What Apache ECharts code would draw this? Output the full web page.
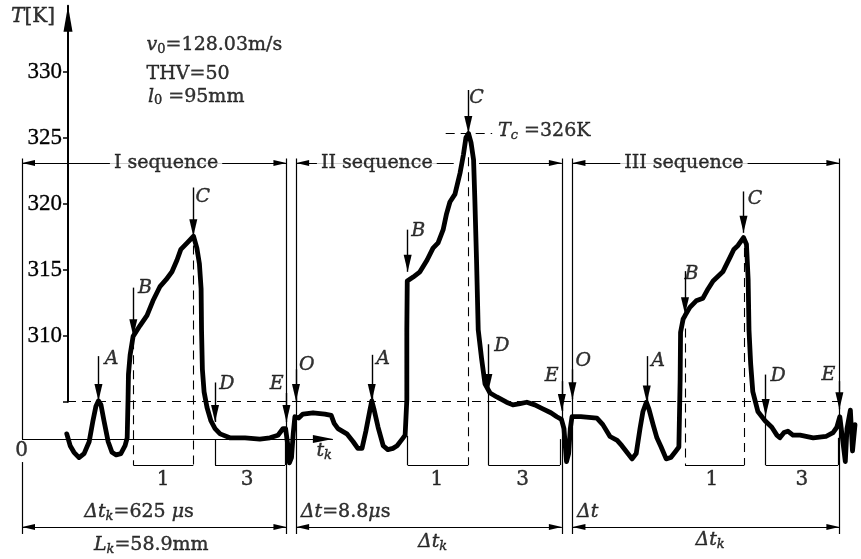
<!DOCTYPE html>
<html><head><meta charset="utf-8">
<script src="https://cdn.jsdelivr.net/npm/echarts@6/dist/echarts.min.js"></script>
<style>html,body{margin:0;padding:0;background:#fff}#c{width:861px;height:559px}</style>
</head><body><div id="c"></div>
<script>
// ---------------- data ----------------
// time t_k in microseconds, temperature T in K
const curveTime = [106,114,123,135,147,159,168,175,181,187,194,204,213,223,234,244,249,251,252,256,263,279,296,310,327,341,355,367,376,391,406,414,420,424,425,427,431,438,447,457,469,492,528,563,587,606,618,624,629,633,638,642,646,
655,665,689,717,732,739,748,769,784,795,805,814,823,828,833,843,855,866,878,888,900,907,911,911,912,926,942,959,973,985,997,1005,1013,1025,1037,1045,1051,1057,1063,1069,1072,1076,1080,1088,1096,1108,1124,1147,1162,1179,1195,1214,1233,1252,1266,1277,1283,1289,1294,1298,1302,
1311,1323,1361,1375,1392,1409,1420,1432,1444,1454,1463,1470,1478,1484,1494,1503,1513,1525,1536,1548,1555,1558,1559,1565,1570,1581,1596,1612,1624,1636,1659,1676,1685,1695,1708,1715,1719,1721,1725,1730,1742,1759,1775,1787,1794,1804,1813,1825,1842,1873,1903,1920,1929,1936,1946,1949,1953,1961,1966,1972];
const curveTemp = [302.5,301.6,301.1,300.7,301.0,301.9,303.5,304.6,305.0,304.7,303.5,301.9,301.1,300.9,301.0,301.6,302.2,305.1,307.0,308.5,309.9,310.7,311.5,312.6,313.7,314.2,314.8,315.7,316.5,317.0,317.5,316.6,315.4,313.5,310.4,307.4,305.7,304.5,303.5,302.9,302.5,302.2,302.2,302.1,302.2,302.4,302.9,302.9,301.7,300.3,300.7,302.5,303.8,
303.7,304.0,304.1,304.0,303.9,303.3,302.9,302.5,301.9,301.4,301.4,302.7,304.2,305.0,304.4,303.0,301.6,301.3,301.4,301.6,302.1,302.4,305.1,310.4,314.1,314.4,314.8,315.7,316.6,317.0,318.0,319.2,320.1,320.7,322.3,323.7,325.0,325.3,324.6,323.3,320.3,315.7,310.4,308.2,306.3,305.6,305.3,304.9,304.7,304.8,304.9,304.7,304.4,304.1,303.8,303.6,302.9,300.4,301.0,302.9,303.8,
303.8,303.8,303.7,303.2,302.3,302.0,301.6,301.1,300.6,301.0,302.9,304.2,304.9,304.4,303.2,302.2,301.5,300.6,300.7,301.2,301.5,306.6,310.2,311.2,311.5,312.1,312.6,312.8,313.5,314.1,314.8,315.9,316.5,316.8,317.4,316.9,314.2,310.4,307.8,305.7,304.2,303.5,303.0,302.4,302.2,302.6,302.7,302.4,302.4,302.2,302.3,302.6,303.0,303.8,301.2,300.4,302.9,304.3,301.2,303.2];

const yTickValues = [310, 315, 320, 325, 330];
const refTemp = 305;          // dashed level
const baseTemp = 302.1;       // t_k axis level
const tcTemp = 325.33;        // peak of II sequence
const seqStart = [0, 649, 1303];
const seqEnd = [626, 1278, 1935];
const seqNames = ['I sequence', 'II sequence', 'III sequence'];
const seqNameTime = [341, 840, 1567];

// marker arrows: letter, time, arrow top (K), arrow tip (K), label time, label K
const markerLetter = ['A','B','C','D','E', 'O','A','B','C','D','E', 'O','A','B','C','D','E'];
const markerTime   = [181,263.5,405.5,457,626, 648.6,828,913,1056.5,1104,1278, 1303,1479,1569.5,1708,1760.5,1935];
const markerTop    = [308.4,313.6,321.2,306.4,305.6, 307.4,308.5,318.0,328.6,309.3,306.5, 307.4,308.4,314.85,320.9,307.0,306.5];
const markerTip    = [305.0,309.9,317.5,303.4,303.4, 305.0,305.0,314.8,325.33,305.76,304.24, 305.13,304.88,311.57,317.76,303.86,304.37];
const markerLabT   = [212,291,428,485,603, 674,855,938,1076,1136,1254, 1329,1506,1585,1735,1790,1909];
const markerLabK   = [308.2,313.6,320.5,306.3,306.3, 307.75,308.2,317.9,328.0,309.2,306.9, 308.0,308.0,314.6,320.3,306.85,307.0];

// ---------------- drawing ----------------
const INK = '#000';
const SERIF = 'DejaVu Serif';
const frameTop = 323.4, frameBottom = 294.9;
const headerTemp = 323.06, spanTemp = 295.43;
const brT = 300.13, brLabT = 299.05;

function pt(t, T, head, size) {
  const p = { coord: [t, T] };
  if (head) { p.symbol = 'triangle'; p.symbolSize = size; p.symbolOffset = [0, size[1] / 2]; }
  else { p.symbol = 'none'; }
  return p;
}
function seg(t1, T1, t2, T2, h1, h2, size) {
  return [pt(t1, T1, h1, size), pt(t2, T2, h2, size)];
}

const frame = [];
[0, 626, 649, 1278, 1303, 1935].forEach(b => {
  if (b === 0) { frame.push(seg(0, frameTop, 0, baseTemp)); frame.push(seg(0, 300.36, 0, frameBottom)); }
  else frame.push(seg(b, frameTop, b, frameBottom));
});
const hs = [6, 13];
frame.push(seg(seqStart[0], headerTemp, seqEnd[0], headerTemp, true, true, hs));
frame.push(seg(seqStart[1], headerTemp, 1022, headerTemp, true, false, hs));
frame.push(seg(1082, headerTemp, seqEnd[1], headerTemp, false, true, hs));
frame.push(seg(seqStart[2], headerTemp, seqEnd[2], headerTemp, true, true, hs));
for (let i = 0; i < 3; i++) frame.push(seg(seqStart[i], spanTemp, seqEnd[i], spanTemp, true, true, hs));
frame.push(seg(0, baseTemp, 736, baseTemp, false, true, [8, 20]));
frame.push(seg(263.5, brT, 405.5, brT));
frame.push(seg(457, brT, 622.6, brT)); frame.push(seg(457, 302.1, 457, brT)); frame.push(seg(622.6, 302.3, 622.6, brT));
frame.push(seg(913, brT, 1056.5, brT)); frame.push(seg(913, 302.35, 913, brT));
frame.push(seg(1104, brT, 1273.6, brT)); frame.push(seg(1104, 305.76, 1104, brT)); frame.push(seg(1273.6, 302.1, 1273.6, brT));
frame.push(seg(1569.5, brT, 1710, brT));
frame.push(seg(1760.5, brT, 1932, brT)); frame.push(seg(1760.5, 303.86, 1760.5, brT)); frame.push(seg(1932, 302.2, 1932, brT));

const dashed = [];
dashed.push(seg(106.5, refTemp, 1936, refTemp));
dashed.push(seg(1003, tcTemp, 1113, tcTemp));
dashed.push(seg(263.5, 309.6, 263.5, brT));
dashed.push(seg(405.5, 316.8, 405.5, brT));
dashed.push(seg(1056.5, 323.5, 1056.5, brT));
dashed.push(seg(1569.5, 310.5, 1569.5, brT));
dashed.push(seg(1710, 316.6, 1710, brT));

const arrows = markerTime.map((t, i) => seg(t, markerTop[i], t, markerTip[i], false, true, [8, 17]));

const rich = {
  i: { fontStyle: 'italic' },
  s: { fontSize: 13, padding: [9, 0, 0, 0] },
  si: { fontSize: 13, fontStyle: 'italic', padding: [9, 0, 0, 0] }
};
function lab(t, T, text, align, size, italic, bg) {
  return { value: [t, T], label: {
    show: true, position: 'inside', formatter: text, align: align || 'center', verticalAlign: 'middle',
    fontFamily: SERIF, fontSize: size || 19, fontStyle: italic ? 'italic' : 'normal', color: INK, rich: rich,
    textBorderColor: INK, textBorderWidth: 0.4,
    backgroundColor: bg ? '#fff' : 'transparent', padding: bg ? [0, 4] : 0 } };
}
const labels = [];
labels.push(lab(78, 334.14, '{i|T}[K]', 'right', 20));
labels.push(lab(295, 332.0, '{i|v}{s|0}=128.03m/s', 'left'));
labels.push(lab(295, 329.83, 'THV=50', 'left'));
labels.push(lab(298, 328.1, '{i|l}{s|0} =95mm', 'left'));
seqNames.forEach((n, i) => labels.push(lab(seqNameTime[i], headerTemp, n, 'center', 19, false, true)));
labels.push(lab(1127, 325.5, '{i|T}{si|c} =326K', 'left'));
labels.push(lab(277, 296.57, '{i|Δt}{si|k}=625 {i|μ}s', 'center'));
labels.push(lab(306, 294.03, '{i|L}{si|k}=58.9mm', 'center'));
labels.push(lab(660, 296.6, '{i|Δt}=8.8{i|μ}s', 'left'));
labels.push(lab(972, 294.3, '{i|Δt}{si|k}', 'center'));
labels.push(lab(1314, 296.57, '{i|Δt}', 'left'));
labels.push(lab(1629, 294.45, '{i|Δt}{si|k}', 'center'));
labels.push(lab(-1, 301.2, '0', 'center', 20));
labels.push(lab(697, 301.2, '{i|t}{si|k}', 'left'));
[[334, '1'], [533, '3'], [982, '1'], [1185, '3'], [1633, '1'], [1846, '3']].forEach(d => labels.push(lab(d[0], brLabT, d[1], 'center', 20)));
markerLetter.forEach((L, i) => labels.push(lab(markerLabT[i], markerLabK[i], L, 'center', 19, true)));

function mlSeries(name, data, ls) {
  return { type: 'line', name: name, xAxisIndex: 0, yAxisIndex: 0, data: [], silent: true, animation: false,
    markLine: { silent: true, animation: false, symbol: ['none', 'none'], label: { show: false },
      emphasis: { disabled: true },
      lineStyle: Object.assign({ color: INK, width: 1.2, type: 'solid' }, ls), data: data } };
}

const option = {
  animation: false,
  backgroundColor: '#fff',
  grid: [
    { left: 0.88, right: 2.6, top: 5.7, bottom: -1.1 },
    { left: 68, width: 10, top: 5.7, bottom: 157.3 }
  ],
  xAxis: [
    { gridIndex: 0, type: 'value', min: -50, max: 1980, show: false },
    { gridIndex: 1, type: 'value', min: 0, max: 1, show: false }
  ],
  yAxis: [
    { gridIndex: 0, type: 'value', min: 293, max: 335, show: false },
    { gridIndex: 1, type: 'value', min: 305, max: 335,
      axisLine: { show: true, onZero: false, symbol: ['none', 'triangle'], symbolSize: [9, 26], symbolOffset: [0, -13], lineStyle: { color: INK, width: 2 } },
      axisTick: { show: true, length: 5, customValues: [305, 310, 315, 320, 325, 330], lineStyle: { color: INK, width: 1.5 } },
      axisLabel: { show: true, customValues: yTickValues, margin: 6, color: INK, fontFamily: 'Liberation Serif', fontSize: 23, textBorderColor: INK, textBorderWidth: 0.3 },
      splitLine: { show: false } }
  ],
  series: [
    mlSeries('frame', frame, {}),
    mlSeries('dashed', dashed, { type: [9, 6], width: 1.1 }),
    mlSeries('markers', arrows, { width: 1.4 }),
    { type: 'line', name: 'T', xAxisIndex: 0, yAxisIndex: 0, z: 10, clip: false, showSymbol: false, silent: true,
      data: curveTime.map((t, i) => [t, curveTemp[i]]),
      lineStyle: { color: INK, width: 4.8, join: 'round', cap: 'round' } },
    { type: 'scatter', name: 'labels', xAxisIndex: 0, yAxisIndex: 0, z: 20, silent: true, symbolSize: 1,
      itemStyle: { color: 'rgba(0,0,0,0)' }, data: labels }
  ]
};
const chart = echarts.init(document.getElementById('c'));
chart.setOption(option);
</script></body></html>
